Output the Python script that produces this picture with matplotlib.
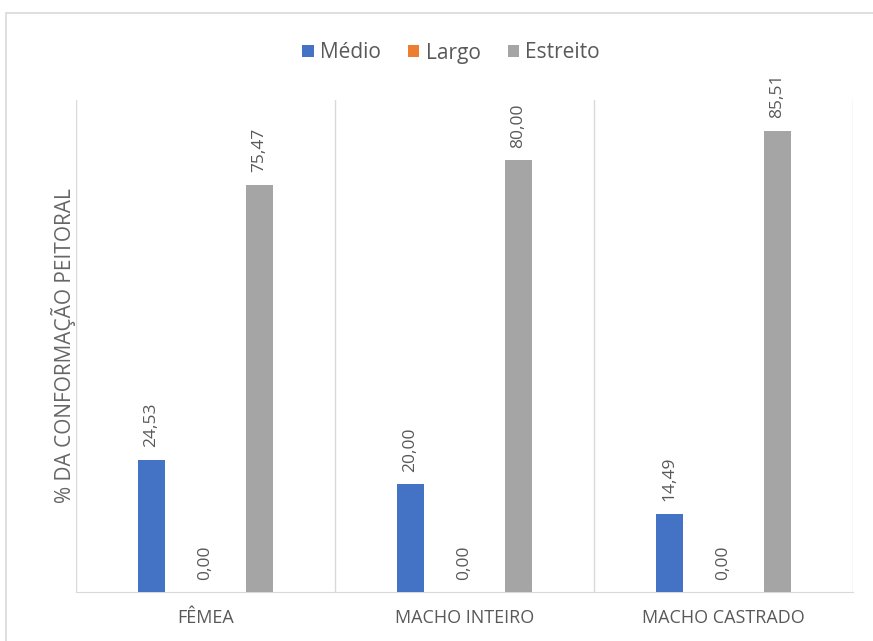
import matplotlib

matplotlib.use("Agg")
import matplotlib.pyplot as plt
import numpy as np
from matplotlib.patches import Rectangle

categories = ["FÊMEA", "MACHO INTEIRO", "MACHO CASTRADO"]
series = ["Médio", "Largo", "Estreito"]
medio = [24.53, 20.00, 14.49]
largo = [0.00, 0.00, 0.00]
estreito = [75.47, 80.00, 85.51]
colors = ["#4472C4", "#ED7D31", "#A5A5A5"]

plt.rcParams["font.family"] = ["Open Sans", "DejaVu Sans"]
text_gray = "#595959"
line_gray = "#D9D9D9"

fig = plt.figure(figsize=(8.73, 6.41), dpi=100)
ax = fig.add_axes([76 / 873, 49 / 641, 777 / 873, 492 / 641])

# light chart-area border, cut off at right/bottom like the screenshot
fig.patches.append(Rectangle((6 / 873, -0.1), 1.2, (641 - 13) / 641 + 0.1,
                             transform=fig.transFigure, fill=False,
                             edgecolor="#D9D9D9", linewidth=1.2))

x = np.arange(len(categories))
width = 0.108
offsets = [-0.2085, 0.0, 0.2085]
for vals, name, color, off in zip([medio, largo, estreito], series, colors, offsets):
    bars = ax.bar(x + off, vals, width, color=color, label=name, zorder=3)
    for b, v in zip(bars, vals):
        ax.annotate(f"{v:.2f}".replace(".", ","), (b.get_x() + b.get_width() / 2, v),
                    xytext=(0, 9), textcoords="offset points", rotation=90,
                    ha="center", va="bottom", fontsize=12.5, color=text_gray)

ax.set_xlim(-0.5, len(categories) - 0.5)
ax.set_ylim(0, 91.2)
for sep in np.arange(len(categories) + 1) - 0.5:
    ax.axvline(sep, color=line_gray, linewidth=1, zorder=1)

for s in ["top", "right", "left"]:
    ax.spines[s].set_visible(False)
ax.spines["bottom"].set_color(line_gray)
ax.set_yticks([])
ax.set_xticks(x)
ax.set_xticklabels(categories, fontsize=13, color=text_gray)
ax.tick_params(axis="x", length=0, pad=12)
ax.set_ylabel("% DA CONFORMAÇÃO PEITORAL", fontsize=15, color="#666666", labelpad=0)

fig.legend(loc="center", bbox_to_anchor=(451 / 873, 1 - 53 / 641), ncol=3, frameon=False,
           fontsize=15, handlelength=0.55, handleheight=0.55, handletextpad=0.3,
           columnspacing=1.3, labelcolor=text_gray)

fig.savefig("out.png", dpi=100)
